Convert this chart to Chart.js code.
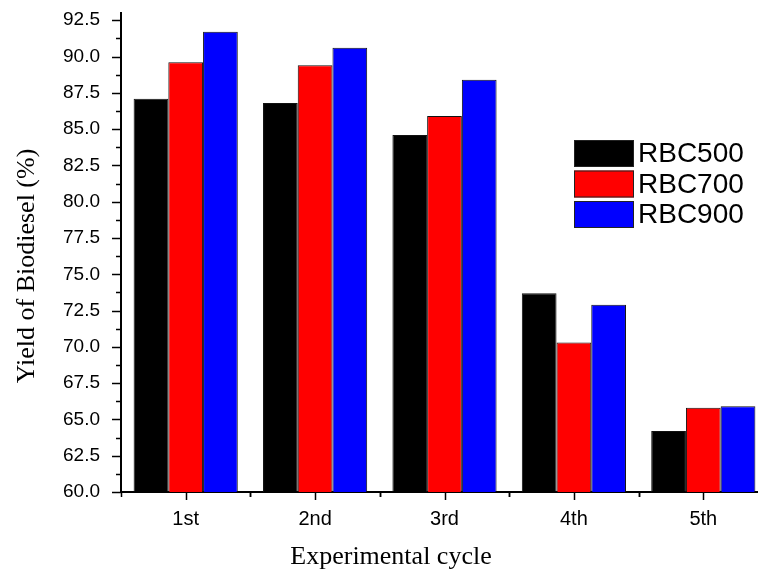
<!DOCTYPE html>
<html>
<head>
<meta charset="utf-8">
<script src="https://cdn.jsdelivr.net/npm/chart.js@4/dist/chart.umd.min.js"></script>
<style>
  html, body { margin: 0; padding: 0; background: #fff; overflow: hidden; }
  #clip { width: 758px; height: 570px; overflow: hidden; }
  #wrap { position: relative; width: 770px; height: 570px; }
</style>
</head>
<body>
<div id="clip"><div id="wrap"><canvas id="yieldChart"></canvas></div></div>
<script>
// Data
const categories = ["1st", "2nd", "3rd", "4th", "5th"];
const seriesNames = ["RBC500", "RBC700", "RBC900"];
const rbc500 = [87.1, 86.8, 84.6, 73.7, 64.2];
const rbc700 = [89.6, 89.4, 85.9, 70.3, 65.8];
const rbc900 = [91.7, 90.6, 88.4, 72.9, 65.9];
const yTicks = [60.0, 62.5, 65.0, 67.5, 70.0, 72.5, 75.0, 77.5, 80.0, 82.5, 85.0, 87.5, 90.0, 92.5];
const xTitle = "Experimental cycle";
const yTitle = "Yield of Biodiesel (%)";

const sansFont = "'Liberation Sans', Arial, Helvetica, sans-serif";
const serifFont = "'Liberation Serif', 'Times New Roman', serif";

// ticks (major + minor), axis titles and the legend box inside the plot
const figureExtras = {
  id: "figureExtras",
  afterDraw(chart) {
    const ctx = chart.ctx;
    const x = chart.scales.x;
    const y = chart.scales.y;
    const area = chart.chartArea;

    ctx.save();
    ctx.strokeStyle = "#000";
    ctx.lineWidth = 1.5;

    // y ticks: major at labels, minor half way
    yTicks.forEach((v) => {
      const py = Math.round(y.getPixelForValue(v)) + 0.5;
      ctx.beginPath();
      ctx.moveTo(area.left - 9, py);
      ctx.lineTo(area.left, py);
      ctx.stroke();
      const mid = v + 1.25;
      if (mid <= y.max) {
        const pm = Math.round(y.getPixelForValue(mid)) + 0.5;
        ctx.beginPath();
        ctx.moveTo(area.left - 5, pm);
        ctx.lineTo(area.left, pm);
        ctx.stroke();
      }
    });

    // x ticks: major at category centres, minor at boundaries
    categories.forEach((c, i) => {
      const px = Math.round(x.getPixelForValue(i)) + 0.5;
      ctx.beginPath();
      ctx.moveTo(px, area.bottom);
      ctx.lineTo(px, area.bottom + 8);
      ctx.stroke();
      const half = (i < categories.length - 1)
        ? (x.getPixelForValue(i + 1) - x.getPixelForValue(i)) / 2
        : (x.getPixelForValue(i) - x.getPixelForValue(i - 1)) / 2;
      [x.getPixelForValue(i) - half, x.getPixelForValue(i) + half].forEach((b) => {
        const pb = Math.round(b) + 0.5;
        ctx.beginPath();
        ctx.moveTo(pb, area.bottom);
        ctx.lineTo(pb, area.bottom + 5);
        ctx.stroke();
      });
    });

    // axis titles
    ctx.fillStyle = "#000";
    ctx.font = "26px " + serifFont;
    ctx.textAlign = "center";
    ctx.textBaseline = "alphabetic";
    ctx.fillText(xTitle, 391, 564);

    ctx.save();
    ctx.translate(34, 266);
    ctx.rotate(-Math.PI / 2);
    ctx.fillText(yTitle, 0, 0);
    ctx.restore();

    // legend
    ctx.font = "28px " + sansFont;
    ctx.textAlign = "left";
    ctx.textBaseline = "middle";
    chart.data.datasets.forEach((ds, i) => {
      const by = 140 + i * 30.5;
      ctx.fillStyle = ds.backgroundColor;
      ctx.fillRect(574, by, 60, 27);
      ctx.lineWidth = 1;
      ctx.strokeStyle = "#222";
      ctx.strokeRect(574.5, by + 0.5, 59, 26);
      ctx.fillStyle = "#000";
      ctx.fillText(ds.label, 638, by + 14.5);
    });
    ctx.restore();
  }
};

const ctx = document.getElementById("yieldChart").getContext("2d");

new Chart(ctx, {
  type: "bar",
  data: {
    labels: categories,
    datasets: [
      { label: seriesNames[0], data: rbc500, backgroundColor: "#000000" },
      { label: seriesNames[1], data: rbc700, backgroundColor: "#ff0000" },
      { label: seriesNames[2], data: rbc900, backgroundColor: "#0000ff" },
    ].map((d) => ({
      ...d,
      borderColor: "#111",
      borderWidth: 1,
      borderSkipped: "bottom",
      categoryPercentage: 0.805,
      barPercentage: 1.0,
    })),
  },
  options: {
    responsive: true,
    maintainAspectRatio: false,
    animation: false,
    layout: { padding: { top: 13, right: 2, left: 0, bottom: 0 } },
    plugins: {
      legend: { display: false },
      tooltip: { enabled: false },
    },
    scales: {
      x: {
        grid: { display: false, drawTicks: false },
        border: { display: true, color: "#000", width: 2 },
        ticks: { color: "#000", font: { family: sansFont, size: 20 }, padding: 15 },
        afterFit: (s) => { s.height = 78; },
      },
      y: {
        min: 60,
        max: 93,
        grid: { display: false, drawTicks: false },
        border: { display: true, color: "#000", width: 2 },
        ticks: {
          color: "#000",
          font: { family: sansFont, size: 19 },
          padding: 21,
          callback: (v) => Number(v).toFixed(1),
        },
        afterBuildTicks: (s) => { s.ticks = yTicks.map((v) => ({ value: v })); },
        afterFit: (s) => {
          s.width = 121;
          s.paddingTop = 0;
          s.paddingBottom = 0;
        },
      },
    },
  },
  plugins: [figureExtras],
});
</script>
</body>
</html>
